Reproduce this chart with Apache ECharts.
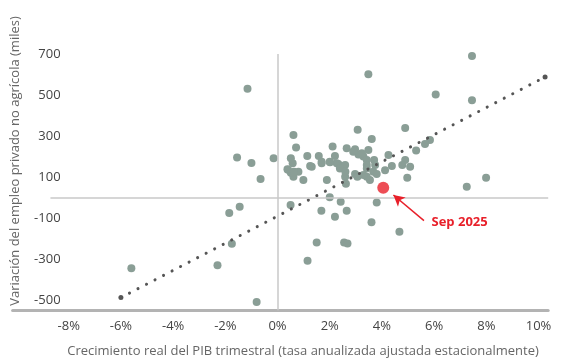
<!DOCTYPE html>
<html>
<head>
<meta charset="utf-8">
<script src="https://cdn.jsdelivr.net/npm/echarts@6/dist/echarts.min.js"></script>
<style>html,body{margin:0;padding:0;background:#fff}#c{width:564px;height:363px}</style>
</head>
<body>
<div id="c"></div>
<script>
// Quarterly real GDP growth (%, SAAR) vs private non-farm payroll change (thousands)
var gdpGrowth = [
  -5.6, -2.3, -1.75, -1.85, -1.45, -0.8, -1.15, -1.55, -1.0, -0.65, -0.15,
  0.5, 1.15, 1.5, 2.55, 2.68, 1.68, 2.65, 2.2, 3.6, 4.67, 2.0, 2.42, 3.8,
  7.45, 3.48, 6.06, 7.45, 3.07, 4.89, 0.61, 3.61, 5.84, 5.65, 5.31, 0.71,
  2.11, 2.65, 2.97, 3.48, 0.51, 1.14, 1.58, 2.2, 3.1, 4.25, 3.29, 4.89,
  3.42, 3.7, 1.25, 1.69, 2.01, 2.33, 2.59, 3.42, 3.74, 4.38, 4.78, 5.08,
  4.12, 3.67, 0.4, 0.8, 0.61, 0.99, 1.89, 2.97, 2.59, 3.42, 3.8, 4.97,
  7.99, 0.51, 2.62, 3.54, 7.25, 0.58, 1.31, 2.27, 2.39, 3.42, 3.29, 3.06,
  2.9, 3.23, 0.38, 0.63, 2.0, 1.69, 2.6
];
var payrollChange = [
  -345, -330, -225, -75, -45, -510, 530, 195, 168, 90, 192,
  -37, -308, -220, -219, -224, -65, -65, -94, -121, -167, 1, -21, -24,
  690, 601, 503, 474, 331, 339, 305, 285, 280, 261, 229, 244,
  249, 240, 235, 232, 191, 202, 202, 202, 210, 207, 200, 183,
  183, 183, 154, 167, 172, 163, 158, 159, 159, 154, 159, 150,
  133, 126, 135, 126, 101, 85, 85, 115, 101, 101, 115, 96,
  96, 121, 67, 85, 52, 167, 150, 167, 142, 142, 110, 101,
  223, 216, 138, 126, 175, 175, 126
];
var latestLabel = "Sep 2025";
var latestGdp = [4.05];
var latestPayroll = [48];
var trendGdp = [-6.0, 10.25];
var trendPayroll = [-488, 588];
var xTickValues = [-8, -6, -4, -2, 0, 2, 4, 6, 8, 10];
var yTickValues = [-500, -300, -100, 100, 300, 500, 700];
var xTitle = "Crecimiento real del PIB trimestral (tasa anualizada ajustada estacionalmente)";
var yTitle = "Variación del empleo privado no agrícola (miles)";

var FONT = "Open Sans";
var pts = gdpGrowth.map(function (x, i) { return [x, payrollChange[i]]; });
var trend = trendGdp.map(function (x, i) { return [x, trendPayroll[i]]; });
var latest = latestGdp.map(function (x, i) { return [x, latestPayroll[i]]; });

var chart = echarts.init(document.getElementById('c'), null, {renderer: 'canvas'});
chart.setOption({
  animation: false,
  backgroundColor: '#fff',
  grid: {left: 12.6, right: 15.8, top: 54, bottom: 52.75, containLabel: false, outerBoundsMode: 'none'},
  xAxis: {
    type: 'value', min: -10.15, max: 10.37,
    axisLine: {show: true, onZero: false, lineStyle: {color: '#b3b3b3', width: 3}},
    axisTick: {show: false},
    splitLine: {show: false},
    axisLabel: {customValues: xTickValues, formatter: function (v) { return v + '%'; },
      color: '#444', fontFamily: FONT, fontSize: 13, margin: 10}
  },
  yAxis: {
    type: 'value', min: -550, max: 700, offset: -52,
    axisLine: {show: false}, axisTick: {show: false}, splitLine: {show: false},
    axisLabel: {customValues: yTickValues, color: '#444', fontFamily: FONT, fontSize: 13, margin: 4}
  },
  graphic: [
    {type: 'text', x: 303, y: 351, style: {text: xTitle, fill: '#666', font: '13px "Open Sans"', textAlign: 'center', textVerticalAlign: 'middle'}},
    {type: 'text', x: 15, y: 161, rotation: Math.PI / 2, style: {text: yTitle, fill: '#666', font: '13px "Open Sans"', textAlign: 'center', textVerticalAlign: 'middle'}}
  ],
  series: [
    {
      type: 'line', data: trend, z: 3, symbol: 'circle', symbolSize: 5, showSymbol: true,
      itemStyle: {color: '#555'},
      lineStyle: {color: '#555', width: 3, type: [0.1, 9.5], cap: 'round'},
      markLine: {
        silent: true, symbol: 'none', label: {show: false},
        lineStyle: {color: '#c8c8c8', width: 1.5, type: 'solid'},
        data: [
          {xAxis: 0},
          [{coord: [-8.7, 0]}, {coord: [10.37, 0]}]
        ]
      }
    },
    {
      type: 'scatter', data: pts, symbolSize: 8, z: 2,
      itemStyle: {color: '#8a9e96', opacity: 1}
    },
    {
      type: 'scatter', data: latest, symbolSize: 12, z: 5,
      itemStyle: {color: '#e8202a'},
      markLine: {
        silent: true, symbol: ['none', 'arrow'], symbolSize: [9, 11],
        label: {show: false},
        lineStyle: {color: '#e8202a', width: 1.5, type: 'solid'},
        data: [[{coord: [5.61, -113]}, {coord: [4.44, 12]}]]
      },
      markPoint: {
        symbol: 'circle', symbolSize: 0,
        label: {show: true, position: 'right', distance: 0, formatter: latestLabel,
          color: '#e8202a', fontFamily: FONT, fontSize: 13, fontWeight: 'bold'},
        data: [{coord: [5.9, -123]}]
      }
    }
  ]
});
</script>
</body>
</html>
